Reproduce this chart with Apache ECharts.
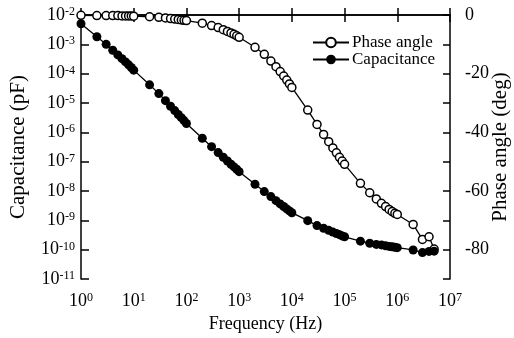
<!DOCTYPE html>
<html>
<head>
<meta charset="utf-8">
<script src="https://cdn.jsdelivr.net/npm/echarts@6/dist/echarts.min.js"></script>
<style>
html,body{margin:0;padding:0;background:#fff;}
#chart{width:514px;height:338px;}
</style>
</head>
<body>
<div id="chart"></div>
<script>
// Frequency (Hz)
var frequency = [
  1,2,3,4,5,6,7,8,9,
  10,20,30,40,50,60,70,80,90,
  100,200,300,400,500,600,700,800,900,
  1000,2000,3000,4000,5000,6000,7000,8000,9000,
  1e4,2e4,3e4,4e4,5e4,6e4,7e4,8e4,9e4,
  1e5,2e5,3e5,4e5,5e5,6e5,7e5,8e5,9e5,
  1e6,2e6,3e6,4e6,5e6
];
// Phase angle (deg)
var phaseAngle = [
  -0.1,-0.2,-0.2,-0.2,-0.2,-0.3,-0.3,-0.3,-0.3,
  -0.4,-0.6,-0.8,-1.0,-1.2,-1.4,-1.5,-1.7,-1.8,
  -1.9,-2.8,-3.6,-4.3,-5.0,-5.6,-6.1,-6.6,-7.1,
  -7.6,-11.0,-13.4,-15.7,-17.6,-19.3,-20.8,-22.2,-23.5,
  -24.7,-32.4,-37.3,-40.7,-43.2,-45.3,-47.0,-48.5,-49.8,
  -50.9,-57.4,-60.6,-62.7,-64.2,-65.3,-66.3,-67.0,-67.6,
  -68.0,-71.4,-76.5,-75.6,-79.8
];
// Capacitance (pF)
var capacitance = [
  5.01e-3,1.82e-3,1.0e-3,6.31e-4,4.37e-4,3.24e-4,2.51e-4,2.0e-4,1.62e-4,
  1.32e-4,4.17e-5,2.09e-5,1.20e-5,7.76e-6,5.50e-6,4.07e-6,3.16e-6,2.51e-6,
  2.0e-6,6.31e-7,3.24e-7,2.04e-7,1.41e-7,1.05e-7,8.13e-8,6.61e-8,5.50e-8,
  4.57e-8,1.70e-8,9.55e-9,6.46e-9,4.68e-9,3.63e-9,2.95e-9,2.45e-9,2.09e-9,
  1.82e-9,9.77e-10,6.61e-10,5.37e-10,4.57e-10,3.98e-10,3.55e-10,3.24e-10,2.95e-10,
  2.75e-10,1.95e-10,1.66e-10,1.51e-10,1.45e-10,1.35e-10,1.29e-10,1.26e-10,1.20e-10,
  1.17e-10,9.77e-11,7.94e-11,8.71e-11,8.91e-11
];
var seriesNames = ['Phase angle', 'Capacitance'];
var axisNames = {x: 'Frequency (Hz)', yLeft: 'Capacitance (pF)', yRight: 'Phase angle (deg)'};

var FONT = "'Liberation Serif','Times New Roman',serif";
function pow10Label(v) {
  var e = Math.round(Math.log(v) / Math.LN10);
  return '{b|10}{s|' + e + '}';
}
var richPow = {
  b: {fontSize: 18, fontFamily: FONT, color: '#000'},
  s: {fontSize: 12, fontFamily: FONT, color: '#000', verticalAlign: 'top'}
};
var axisLineStyle = {color: '#000', width: 1.5};

var chart = echarts.init(document.getElementById('chart'), null, {renderer: 'canvas'});
var option = {
  animation: false,
  backgroundColor: '#fff',
  grid: {left: 81, right: 64, top: 15, bottom: 59, containLabel: false, outerBoundsMode: 'none'},
  legend: {
    orient: 'vertical',
    left: 307,
    top: 29,
    itemWidth: 36,
    itemHeight: 12,
    itemGap: 0,
    data: seriesNames,
    textStyle: {fontSize: 17, fontFamily: FONT, color: '#000', padding: [0, 0, 0, -2]}
  },
  xAxis: [{
    type: 'log', logBase: 10, min: 1, max: 1e7, interval: 1,
    position: 'bottom',
    name: axisNames.x, nameLocation: 'middle', nameGap: 36, nameMoveOverlap: false,
    nameTextStyle: {fontSize: 18, fontFamily: FONT, color: '#000'},
    axisLine: {lineStyle: axisLineStyle},
    axisTick: {inside: true, length: 7, lineStyle: axisLineStyle},
    axisLabel: {margin: 13, formatter: pow10Label, rich: richPow},
    splitLine: {show: false}, minorTick: {show: false}
  }, {
    type: 'log', logBase: 10, min: 1, max: 1e7, interval: 1,
    position: 'top',
    axisLine: {lineStyle: axisLineStyle},
    axisTick: {inside: true, length: 7, lineStyle: axisLineStyle},
    axisLabel: {show: false},
    splitLine: {show: false}
  }],
  yAxis: [{
    type: 'log', logBase: 10, min: 1e-11, max: 1e-2, interval: 1,
    position: 'left',
    name: axisNames.yLeft, nameLocation: 'middle', nameGap: 52, nameMoveOverlap: false,
    nameTextStyle: {fontSize: 21, fontFamily: FONT, color: '#000'},
    axisLine: {lineStyle: axisLineStyle},
    axisTick: {inside: true, length: 8, lineStyle: axisLineStyle},
    axisLabel: {margin: 6, formatter: pow10Label, rich: richPow},
    splitLine: {show: false}, minorTick: {show: false}
  }, {
    type: 'value', min: -90, max: 0, interval: 10,
    position: 'right',
    name: axisNames.yRight, nameLocation: 'middle', nameGap: 40, nameRotate: 90, nameMoveOverlap: false,
    nameTextStyle: {fontSize: 21, fontFamily: FONT, color: '#000'},
    axisLine: {lineStyle: axisLineStyle},
    axisTick: {inside: true, length: 7, lineStyle: axisLineStyle},
    axisLabel: {
      margin: 15, fontSize: 18, fontFamily: FONT, color: '#000',
      formatter: function (v) { return (v % 20 === 0) ? String(v) : ''; }
    },
    splitLine: {show: false}
  }],
  series: [{
    name: seriesNames[0], type: 'line', xAxisIndex: 0, yAxisIndex: 1,
    data: frequency.map(function (f, i) { return [f, phaseAngle[i]]; }),
    symbol: 'circle', symbolSize: 8, clip: false,
    lineStyle: {color: '#000', width: 1.3},
    itemStyle: {color: '#fff', borderColor: '#000', borderWidth: 1.5}
  }, {
    name: seriesNames[1], type: 'line', xAxisIndex: 0, yAxisIndex: 0,
    data: frequency.map(function (f, i) { return [f, capacitance[i]]; }),
    symbol: 'circle', symbolSize: 9, clip: false,
    lineStyle: {color: '#000', width: 1.3},
    itemStyle: {color: '#000', borderColor: '#000', borderWidth: 0}
  }]
};
chart.setOption(option);
</script>
</body>
</html>
